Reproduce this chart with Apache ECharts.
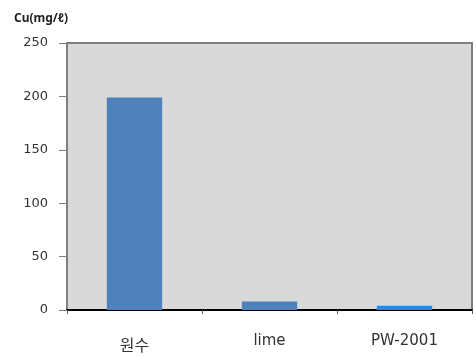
<!DOCTYPE html>
<html>
<head>
<meta charset="utf-8">
<script src="https://cdn.jsdelivr.net/npm/echarts@6/dist/echarts.min.js"></script>
<style>
  html, body { margin: 0; padding: 0; background: #fff; }
  #chart { width: 476px; height: 357px; }
</style>
</head>
<body>
<div id="chart"></div>
<script>
// Copper concentration by treatment
const categories = ['원수', 'lime', 'PW-2001'];
const cuValues = [199, 8, 4];
const barColors = ['#4f81bd', '#4f81bd', '#2e86e0'];
const yTicks = { min: 0, max: 250, interval: 50 };

const chart = echarts.init(document.getElementById('chart'));
chart.setOption({
  animation: false,
  backgroundColor: '#ffffff',
  title: {
    text: 'Cu(mg/ℓ)',
    left: 9,
    top: 8,
    textStyle: { fontFamily: 'Noto Sans', fontSize: 12, fontWeight: 'bold', color: '#222' }
  },
  grid: {
    left: 67, right: 4, top: 43, bottom: 47,
    show: true,
    backgroundColor: '#d9d9d9',
    borderColor: '#7f7f7f',
    borderWidth: 2
  },
  xAxis: {
    type: 'category',
    data: categories,
    axisLine: { lineStyle: { color: '#000', width: 2 } },
    axisTick: { show: true, alignWithLabel: false, length: 4, lineStyle: { color: '#555' } },
    axisLabel: {
      margin: 24,
      fontFamily: 'DejaVu Sans',
      fontSize: 15,
      color: '#333',
      formatter: function (v) { return v === '원수' ? '{k|' + v + '}' : v; },
      rich: { k: { fontSize: 16, padding: [3, 0, 0, 0], fontFamily: 'Noto Sans CJK KR', color: '#333' } }
    }
  },
  yAxis: {
    type: 'value',
    min: yTicks.min,
    max: yTicks.max,
    interval: yTicks.interval,
    axisLine: { show: true, lineStyle: { color: '#7f7f7f', width: 2 } },
    axisTick: { show: true, length: 8, lineStyle: { color: '#7f7f7f' } },
    splitLine: { show: false },
    axisLabel: { margin: 19, fontFamily: 'DejaVu Sans', fontSize: 13, color: '#333' }
  },
  series: [{
    type: 'bar',
    data: cuValues.map((v, i) => ({ value: v, itemStyle: { color: barColors[i] } })),
    barWidth: '41%'
  }]
});
</script>
</body>
</html>
